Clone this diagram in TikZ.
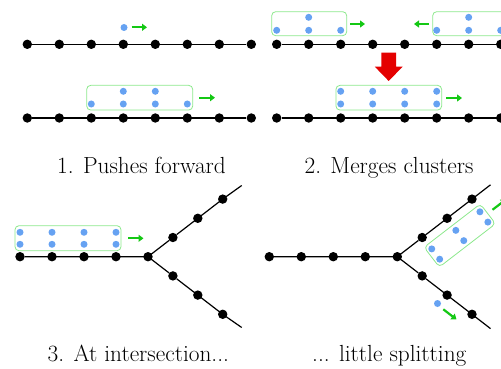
\documentclass[tikz,border=0pt]{standalone}
\usetikzlibrary{arrows.meta}
\definecolor{dotblue}{RGB}{102,162,242}
\definecolor{mvgreen}{RGB}{20,200,20}
\definecolor{boxgreen}{RGB}{140,232,140}
\definecolor{bigred}{RGB}{228,0,0}
\begin{document}
\begin{tikzpicture}[x=1pt,y=-1pt,
  bdot/.style={circle,fill=black,inner sep=0pt,minimum size=9.4pt},
  pdot/.style={circle,fill=dotblue,inner sep=0pt,minimum size=7pt},
  cbox/.style={draw=boxgreen,rounded corners=4pt,line width=0.8pt,inner sep=0pt},
  move/.style={draw=mvgreen,line width=2.2pt,-{Triangle[length=5pt,width=7pt]}},
  track/.style={line width=1.2pt,black},
  lab/.style={anchor=base,inner sep=0pt,font=\fontsize{23.3}{28}\selectfont}]
\useasboundingbox (0,0) rectangle (501,369);

% ---------- panel 1 ----------
\foreach \i in {0,...,7}{
  \node[bdot] (pat\i) at ({27.3+32*\i},44.3) {};
  \node[bdot] (pab\i) at ({27.3+32*\i},118) {};
}
\draw[track] (pat0) -- (pat7);
\draw[track] (pab0) -- (pab7);
\node[pdot] (q1) at (124,27.5) {};
\coordinate (m1s) at (131.7,27.3); \coordinate (m1e) at (147,27.3);
\draw[move] (m1s) -- (m1e);
\node[cbox,minimum width=106pt,minimum height=24.7pt] (box1) at (139.7,97.7) {};
\foreach \x in {123.3,155.3} \node[pdot] at (\x,91.3) {};
\foreach \x in {91.3,123.3,155.3,187.3} \node[pdot] at (\x,104) {};
\coordinate (m2s) at (199,97.7); \coordinate (m2e) at (215,97.7);
\draw[move] (m2s) -- (m2e);
\node[lab] (l1) at (141.5,173) {1. Pushes forward};

% ---------- panel 2 ----------
\foreach \i in {0,...,7}{
  \node[bdot] (pbt\i) at ({276.7+32*\i},44.3) {};
  \node[bdot] (pbb\i) at ({276.7+32*\i},118) {};
}
\draw[track] (pbt0) -- (pbt7.center) -- ++(10,0);
\draw[track] (pbb0) -- (pbb7.center) -- ++(10,0);
\node[cbox,minimum width=75pt,minimum height=24pt] (box2) at (309.2,23.7) {};
\node[pdot] at (308.7,17.3) {};
\foreach \x in {276.7,308.7,340.7} \node[pdot] at (\x,30.3) {};
\node[cbox,minimum width=75pt,minimum height=24pt] (box3) at (470.2,23.7) {};
\node[pdot] at (468.7,17.3) {};
\foreach \x in {436.7,468.7,500.7} \node[pdot] at (\x,30.3) {};
\coordinate (m3s) at (350,24); \coordinate (m3e) at (365,24);
\draw[move] (m3s) -- (m3e);
\coordinate (m4s) at (429,24); \coordinate (m4e) at (414,24);
\draw[move] (m4s) -- (m4e);
\fill[bigred] (381.3,52.7) -- (396,52.7) -- (396,66.7) -- (402.6,66.7)
  -- (388.7,81) -- (374.8,66.7) -- (381.3,66.7) -- cycle;
\node[cbox,minimum width=105.7pt,minimum height=24.7pt] (box4) at (388.8,97.7) {};
\foreach \x in {340.7,372.7,404.7,436.7}{
  \node[pdot] at (\x,91.3) {};
  \node[pdot] at (\x,104) {};
}
\coordinate (m5s) at (446,98); \coordinate (m5e) at (462,98);
\draw[move] (m5s) -- (m5e);
\node[lab] (l2) at (389,173) {2. Merges clusters};

% ---------- panel 3 ----------
\foreach \i in {0,...,4} \node[bdot] (pc\i) at ({20+32*\i},256.7) {};
\foreach \k in {1,2,3}{
  \node[bdot] (pcu\k) at ({148+24.9*\k},{256.7-19.2*\k}) {};
  \node[bdot] (pcd\k) at ({148+24.9*\k},{256.7+19.2*\k}) {};
}
\coordinate (pcue) at (241.7,185.5);
\coordinate (pcde) at (241.7,327.5);
\draw[track] (pc0) -- (pc4.center) -- (pcu1) -- (pcu3.center) -- (pcue);
\draw[track] (pc4.center) -- (pcd1) -- (pcd3.center) -- (pcde);
\node[cbox,minimum width=106pt,minimum height=25pt] (box5) at (68,238.2) {};
\foreach \x in {20,52,84,116}{
  \node[pdot] at (\x,232.3) {};
  \node[pdot] at (\x,244.3) {};
}
\coordinate (m6s) at (128.3,238.3); \coordinate (m6e) at (143.5,238.3);
\draw[move] (m6s) -- (m6e);
\node[lab] (l3) at (138.3,361.7) {3. At intersection...};

% ---------- panel 4 ----------
\foreach \i in {0,...,4} \node[bdot] (pd\i) at ({269.3+32*\i},256.7) {};
\foreach \k in {1,2,3}{
  \node[bdot] (pdu\k) at ({397.3+24.9*\k},{256.7-19.2*\k}) {};
  \node[bdot] (pdd\k) at ({397.3+24.9*\k},{256.7+19.2*\k}) {};
}
\coordinate (pdue) at (490.5,184.8);
\coordinate (pdde) at (490.5,328.6);
\draw[track] (pd0) -- (pd4.center) -- (pdu1) -- (pdu3.center) -- (pdue);
\draw[track] (pd4.center) -- (pdd1) -- (pdd3.center) -- (pdde);
\begin{scope}[shift={(459.8,235.5)},rotate=37.6]
  \node[cbox,rotate=37.6,minimum width=71pt,minimum height=25pt] (box6) at (0,0) {};
  \foreach \a in {-30.4,0,30.4}{
    \node[pdot] at (\a,-6.5) {};
    \node[pdot] at (\a,6.5) {};
  }
\end{scope}
\coordinate (m7s) at (492.5,209.8); \coordinate (m7e) at (506,199.4);
\draw[move] (m7s) -- (m7e);
\node[pdot] (q2) at (437.5,303.5) {};
\coordinate (m8s) at (443.3,309.3); \coordinate (m8e) at (456.5,319.5);
\draw[move] (m8s) -- (m8e);
\node[lab] (l4) at (389.3,361.7) {... little splitting};
\end{tikzpicture}
\end{document}
